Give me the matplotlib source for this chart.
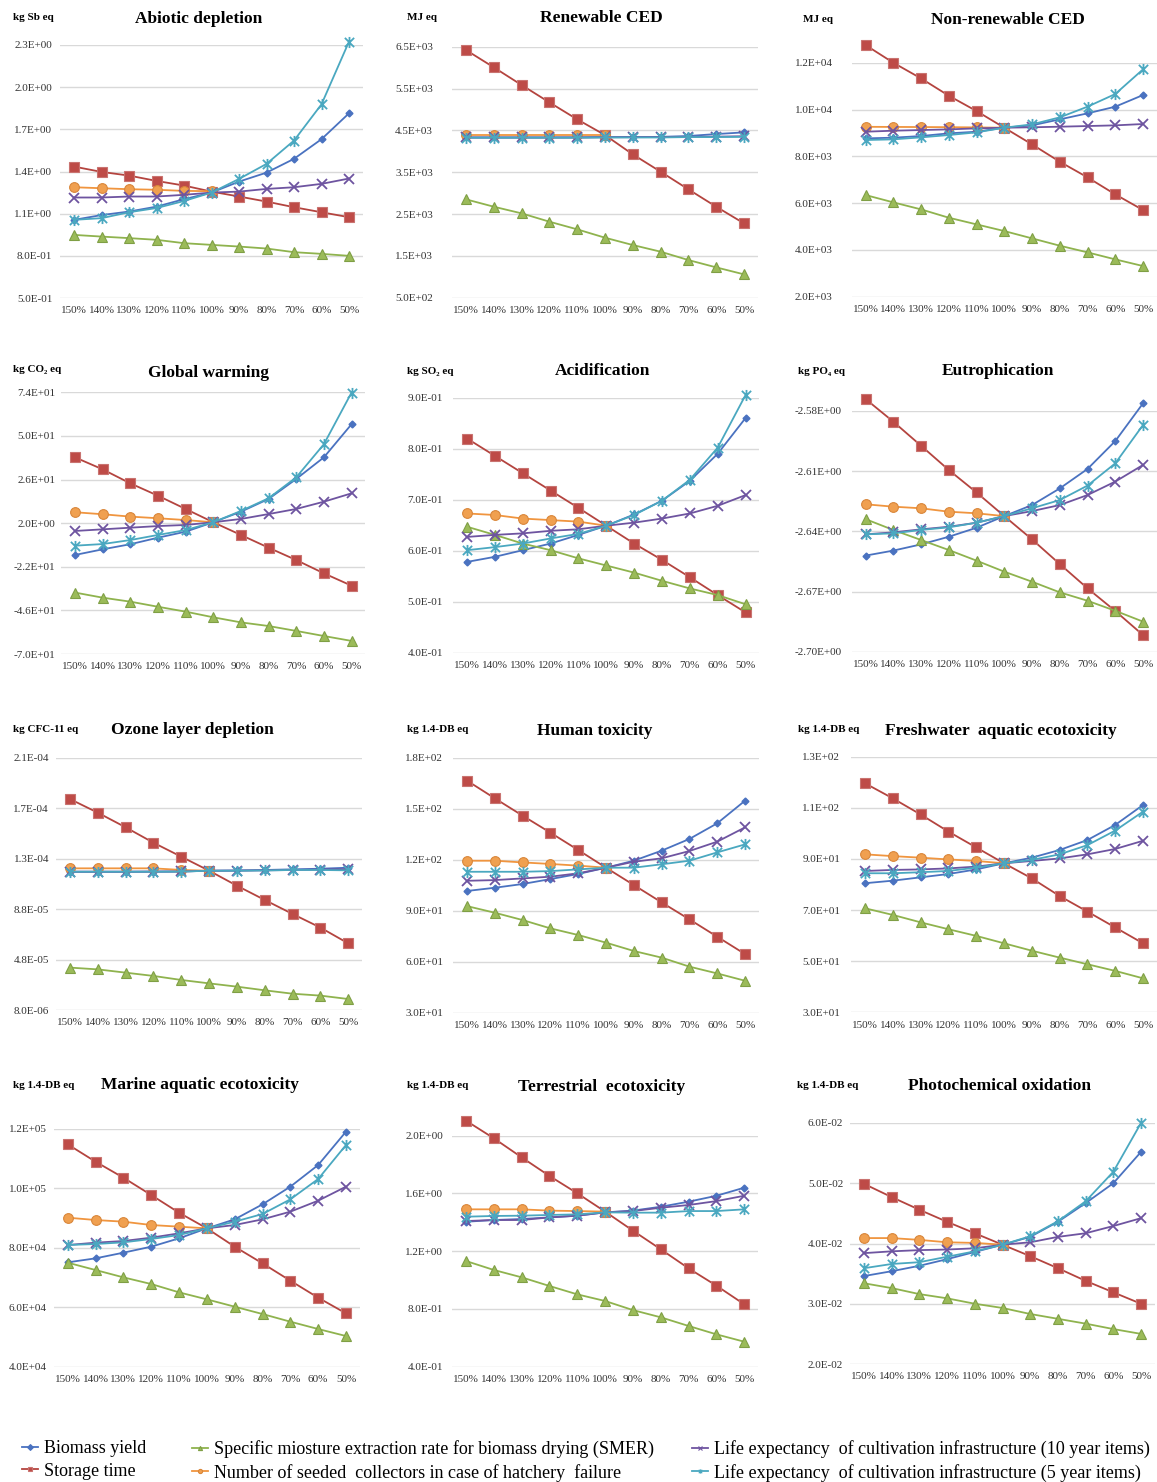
import numpy as np
import matplotlib
matplotlib.use('Agg')
import matplotlib.pyplot as plt
from matplotlib.lines import Line2D
from matplotlib.path import Path

x_labels = ['150%', '140%', '130%', '120%', '110%', '100%', '90%', '80%', '70%', '60%', '50%']

titles = ['Abiotic depletion', 'Renewable CED', 'Non-renewable CED',
          'Global warming', 'Acidification', 'Eutrophication',
          'Ozone layer depletion', 'Human toxicity', 'Freshwater  aquatic ecotoxicity',
          'Marine aquatic ecotoxicity', 'Terrestrial  ecotoxicity', 'Photochemical oxidation']
units = ['kg Sb eq', 'MJ eq', 'MJ eq',
         'kg CO\u2082 eq', 'kg SO\u2082 eq', 'kg PO\u2084 eq',
         'kg CFC-11 eq', 'kg 1.4-DB eq', 'kg 1.4-DB eq',
         'kg 1.4-DB eq', 'kg 1.4-DB eq', 'kg 1.4-DB eq']
y_ticks = [
    [0.5, 0.8, 1.1, 1.4, 1.7, 2.0, 2.3],
    [500, 1500, 2500, 3500, 4500, 5500, 6500],
    [2000, 4000, 6000, 8000, 10000, 12000],
    [-70, -46, -22, 2, 26, 50, 74],
    [0.4, 0.5, 0.6, 0.7, 0.8, 0.9],
    [-2.70, -2.67, -2.64, -2.61, -2.58],
    [8e-6, 4.8e-5, 8.8e-5, 1.28e-4, 1.68e-4, 2.08e-4],
    [30, 60, 90, 120, 150, 180],
    [30, 50, 70, 90, 110, 130],
    [40000, 60000, 80000, 100000, 120000],
    [0.4, 0.8, 1.2, 1.6, 2.0],
    [0.02, 0.03, 0.04, 0.05, 0.06],
]
tick_decimals = [1, 1, 1, 1, 1, 2, 1, 1, 1, 1, 1, 1]

biomass_yield = [
    [1.056, 1.09, 1.115, 1.15, 1.203, 1.25, 1.328, 1.392, 1.49, 1.63, 1.814],
    [4330, 4330, 4330, 4330, 4330, 4340, 4340, 4345, 4365, 4412, 4452],
    [8766, 8795, 8866, 8980, 9051, 9222, 9322, 9578, 9835, 10120, 10618],
    [-15.5, -12.4, -9.6, -6.0, -2.7, 2.5, 8.3, 15.3, 26.3, 38.2, 56.4],
    [0.578, 0.588, 0.601, 0.614, 0.631, 0.649, 0.671, 0.698, 0.737, 0.790, 0.860],
    [-2.6521, -2.6496, -2.6465, -2.6427, -2.6382, -2.6324, -2.6269, -2.6186, -2.6089, -2.595, -2.5762],
    [1.176e-4, 1.176e-4, 1.176e-4, 1.177e-4, 1.178e-4, 1.184e-4, 1.186e-4, 1.19e-4, 1.195e-4, 1.2e-4, 1.208e-4],
    [101.6, 103.5, 105.7, 108.6, 111.6, 115.3, 119.4, 125.3, 132.2, 141.4, 154.7],
    [80.5, 81.5, 82.8, 84.1, 85.9, 88.3, 90.5, 93.5, 97.4, 103.3, 111.1],
    [75120, 76466, 78374, 80393, 83198, 86564, 89593, 94643, 100589, 107882, 119102],
    [1.404, 1.416, 1.423, 1.434, 1.446, 1.469, 1.481, 1.508, 1.543, 1.584, 1.640],
    [0.0346, 0.0354, 0.0363, 0.0374, 0.0386, 0.0398, 0.0411, 0.0436, 0.0467, 0.0500, 0.0552],
]
storage_time = [
    [1.435, 1.397, 1.371, 1.333, 1.300, 1.257, 1.222, 1.186, 1.146, 1.110, 1.075],
    [6420, 6006, 5584, 5169, 4763, 4388, 3926, 3512, 3090, 2675, 2277],
    [12755, 12000, 11330, 10590, 9934, 9222, 8510, 7769, 7100, 6373, 5704],
    [38.2, 31.6, 23.9, 17.1, 9.8, 2.5, -4.5, -11.5, -18.3, -25.6, -32.4],
    [0.820, 0.786, 0.752, 0.718, 0.684, 0.649, 0.614, 0.582, 0.548, 0.513, 0.479],
    [-2.574, -2.5853, -2.5973, -2.6094, -2.6206, -2.6324, -2.644, -2.6563, -2.6684, -2.6797, -2.6917],
    [1.752e-4, 1.644e-4, 1.528e-4, 1.406e-4, 1.295e-4, 1.184e-4, 1.065e-4, 0.952e-4, 0.841e-4, 0.733e-4, 0.608e-4],
    [166.5, 156.1, 145.9, 135.9, 125.7, 115.3, 105.1, 94.9, 84.9, 74.7, 64.5],
    [119.6, 113.7, 107.4, 100.7, 94.5, 88.3, 82.4, 75.5, 69.4, 63.2, 57.0],
    [114839, 109004, 103619, 97784, 91838, 86564, 80393, 74783, 68949, 63227, 57954],
    [2.104, 1.982, 1.850, 1.721, 1.601, 1.474, 1.342, 1.213, 1.081, 0.961, 0.832],
    [0.0499, 0.0477, 0.0456, 0.0436, 0.0417, 0.0398, 0.0379, 0.0359, 0.0338, 0.0319, 0.0300],
]
smer = [
    [0.949, 0.937, 0.926, 0.914, 0.890, 0.878, 0.866, 0.852, 0.826, 0.814, 0.800],
    [2851, 2675, 2516, 2317, 2134, 1934, 1759, 1600, 1400, 1225, 1058],
    [6345, 6032, 5732, 5376, 5091, 4806, 4493, 4180, 3895, 3595, 3311],
    [-36.2, -39.0, -41.2, -44.0, -46.7, -49.8, -52.6, -54.6, -57.3, -60.1, -62.8],
    [0.647, 0.631, 0.614, 0.601, 0.585, 0.571, 0.557, 0.541, 0.526, 0.513, 0.495],
    [-2.6339, -2.6393, -2.6443, -2.6493, -2.6546, -2.6601, -2.6651, -2.6704, -2.6746, -2.6796, -2.685],
    [0.416e-4, 0.402e-4, 0.376e-4, 0.350e-4, 0.318e-4, 0.291e-4, 0.265e-4, 0.236e-4, 0.209e-4, 0.194e-4, 0.167e-4],
    [92.7, 88.8, 84.5, 79.6, 75.7, 71.2, 66.3, 62.4, 57.1, 53.1, 48.8],
    [70.7, 68.1, 65.2, 62.5, 59.9, 57.0, 54.1, 51.4, 48.8, 46.2, 43.3],
    [75008, 72540, 70071, 67827, 65022, 62666, 60197, 57729, 55148, 52680, 50324],
    [1.132, 1.070, 1.019, 0.959, 0.901, 0.855, 0.792, 0.742, 0.682, 0.624, 0.573],
    [0.0334, 0.0326, 0.0316, 0.0309, 0.0300, 0.0293, 0.0283, 0.0275, 0.0267, 0.0258, 0.0250],
]
# only 150% .. 100%
seeded_collectors = [
    [1.288, 1.281, 1.274, 1.270, 1.262, 1.260],
    [4388, 4388, 4388, 4388, 4388, 4388],
    [9260, 9255, 9250, 9245, 9235, 9222],
    [8.0, 6.9, 5.6, 4.7, 3.7, 2.5],
    [0.673, 0.670, 0.663, 0.660, 0.657, 0.649],
    [-2.6265, -2.6277, -2.6285, -2.6302, -2.631, -2.6324],
    [1.203e-4, 1.203e-4, 1.203e-4, 1.203e-4, 1.19e-4, 1.184e-4],
    [119.4, 119.4, 118.4, 117.5, 116.5, 115.3],
    [91.8, 91.1, 90.5, 89.8, 89.2, 88.3],
    [90155, 89369, 88808, 87686, 87125, 86564],
    [1.490, 1.490, 1.490, 1.481, 1.478, 1.474],
    [0.0409, 0.0409, 0.0406, 0.0402, 0.0401, 0.0398],
]
life_10yr = [
    [1.215, 1.215, 1.222, 1.222, 1.234, 1.250, 1.257, 1.276, 1.288, 1.312, 1.350],
    [4330, 4330, 4330, 4330, 4332, 4335, 4338, 4340, 4345, 4350, 4360],
    [9051, 9094, 9122, 9150, 9194, 9222, 9240, 9265, 9293, 9322, 9379],
    [-2.3, -1.4, -0.5, 0.4, 1.0, 2.5, 4.3, 7.0, 9.8, 13.8, 18.4],
    [0.627, 0.631, 0.634, 0.639, 0.642, 0.649, 0.655, 0.663, 0.673, 0.688, 0.709],
    [-2.6415, -2.6405, -2.639, -2.6377, -2.6357, -2.6324, -2.6299, -2.6269, -2.6219, -2.6152, -2.6069],
    [1.176e-4, 1.176e-4, 1.176e-4, 1.177e-4, 1.178e-4, 1.184e-4, 1.185e-4, 1.187e-4, 1.19e-4, 1.193e-4, 1.196e-4],
    [107.6, 108.0, 109.0, 110.0, 112.0, 115.3, 118.8, 120.8, 125.1, 130.6, 139.0],
    [85.3, 85.7, 85.9, 86.3, 87.0, 88.3, 89.2, 90.2, 91.8, 93.9, 97.1],
    [80954, 81740, 82301, 83423, 84881, 86564, 87686, 89593, 92174, 95877, 100589],
    [1.409, 1.416, 1.416, 1.434, 1.446, 1.469, 1.478, 1.501, 1.520, 1.547, 1.584],
    [0.0384, 0.0387, 0.0389, 0.0390, 0.0392, 0.0398, 0.0402, 0.0411, 0.0417, 0.0429, 0.0442],
]
life_5yr = [
    [1.056, 1.068, 1.110, 1.140, 1.190, 1.250, 1.347, 1.454, 1.620, 1.878, 2.324],
    [4325, 4325, 4325, 4325, 4325, 4330, 4330, 4330, 4340, 4340, 4345],
    [8695, 8724, 8809, 8909, 9023, 9222, 9365, 9664, 10120, 10661, 11715],
    [-10.4, -9.5, -7.3, -4.5, -1.8, 2.5, 8.7, 15.7, 27.2, 45.4, 73.8],
    [0.601, 0.607, 0.614, 0.624, 0.633, 0.649, 0.670, 0.698, 0.739, 0.802, 0.905],
    [-2.6415, -2.641, -2.6393, -2.638, -2.6357, -2.6324, -2.6285, -2.6244, -2.6172, -2.6061, -2.587],
    [1.176e-4, 1.176e-4, 1.176e-4, 1.176e-4, 1.177e-4, 1.184e-4, 1.184e-4, 1.186e-4, 1.19e-4, 1.19e-4, 1.187e-4],
    [112.9, 112.9, 112.9, 113.3, 114.3, 115.3, 115.3, 117.3, 119.4, 124.3, 129.0],
    [84.4, 84.4, 84.8, 85.3, 86.6, 88.3, 89.6, 91.8, 95.4, 101.1, 108.5],
    [80954, 81291, 81852, 82974, 84320, 86564, 88808, 91389, 96326, 103170, 114614],
    [1.439, 1.444, 1.446, 1.451, 1.455, 1.469, 1.467, 1.467, 1.478, 1.478, 1.490],
    [0.0359, 0.0366, 0.0369, 0.0378, 0.0387, 0.0398, 0.0412, 0.0437, 0.0470, 0.0519, 0.0600],
]

series_labels = ['Biomass yield', 'Storage time',
                 'Specific miosture extraction rate for biomass drying (SMER)',
                 'Number of seeded  collectors in case of hatchery  failure',
                 'Life expectancy  of cultivation infrastructure (10 year items)',
                 'Life expectancy  of cultivation infrastructure (5 year items)']

# layout in pixels: first point x, last point x, top tick y, bottom tick y, label pad
boxes = [
    (74, 349, 45, 298, 8), (466, 744, 46.7, 297.7, 19), (865.5, 1143, 62.7, 296.7, 19),
    (75, 351.5, 392.3, 654, 6), (467, 745.5, 397.7, 652.7, 10), (865.5, 1143, 411, 651.7, 10),
    (70, 348.3, 757.7, 1010, 7), (467, 745, 757.7, 1012.7, 10), (865, 1143, 756.7, 1012.3, 11),
    (67.7, 346, 1129, 1366.7, 7), (466, 744.3, 1135.7, 1366.7, 9), (864, 1141, 1123, 1364, 7),
]
unit_pos = [(13, 18), (407, 18), (803, 20), (13, 370), (407, 371), (798, 371),
            (13, 730), (407, 730), (798, 730), (13, 1086), (407, 1086), (797, 1086)]
title_pos = [(199, 19), (601, 18), (1008, 20), (208, 373), (603, 371), (998, 371),
             (192, 730), (595, 731), (1001, 731), (200, 1085), (602, 1087), (1000, 1086)]
legend_x = [22, 192, 692]

W, H = 1157, 1482
serif = ['Liberation Serif', 'DejaVu Serif']
plt.rcParams['font.family'] = serif

star = Path([(-1, -1), (1, 1), (-1, 1), (1, -1), (0, -1.2), (0, 1.2)],
            [Path.MOVETO, Path.LINETO] * 3)
styles = [
    dict(color='#4a72c0', marker='D', ms=3.5, mfc='#4a72c0', mec='#4a72c0'),
    dict(color='#b4443f', marker='s', ms=7, mfc='#be4b47', mec='#c97370', mew=0.8),
    dict(color='#8fb34e', marker='^', ms=7, mfc='#9bbb59', mec='#7f9f45', mew=0.8),
    dict(color='#f0953f', marker='o', ms=7, mfc='#f0a050', mec='#d9863a', mew=0.8),
    dict(color='#6e54a0', marker='x', ms=7, mew=1.3),
    dict(color='#4aa8c0', marker=star, ms=8, mfc='none', mew=1.3),
]
data = [biomass_yield, storage_time, smer, seeded_collectors, life_10yr, life_5yr]

fig = plt.figure(figsize=(W / 100, H / 100), dpi=100)
for i in range(12):
    first, last, top, bot, pad = boxes[i]
    w = (last - first) / 10
    left, right = first - w / 2, last + w / 2
    ax = fig.add_axes([left / W, 1 - bot / H, (right - left) / W, (bot - top) / H])
    for s in range(6):
        vals = data[s][i]
        ax.plot(range(len(vals)), vals, lw=1.3, clip_on=False, zorder=3, **styles[s])
    ax.set_xlim(-0.5, 10.5)
    ax.set_ylim(y_ticks[i][0], y_ticks[i][-1])
    ax.set_yticks(y_ticks[i])
    d = tick_decimals[i]
    ax.set_yticklabels([f'{v:.{d}E}' for v in y_ticks[i]])
    ax.set_xticks(range(11))
    ax.set_xticklabels(x_labels)
    ax.tick_params(axis='y', length=0, pad=pad * 0.72, labelsize=8, labelcolor='#333333')
    ax.tick_params(axis='x', length=0, pad=6, labelsize=8, labelcolor='#333333')
    ax.grid(axis='y', color='#d9d9d9', lw=1)
    ax.set_axisbelow(True)
    for sp in ax.spines.values():
        sp.set_visible(False)
    ux, uy = unit_pos[i]
    fig.text(ux / W, 1 - uy / H, units[i], ha='left', va='center',
             fontsize=8, fontweight='bold')
    tx, ty = title_pos[i]
    fig.text(tx / W, 1 - ty / H, titles[i], ha='center', va='center',
             fontsize=12.5, fontweight='bold')

handles = []
for s in range(6):
    st = dict(styles[s])
    st['ms'] = 3
    st['mew'] = 0.8
    handles.append(Line2D([], [], lw=1.3, **st))
for c in range(3):
    leg = fig.legend(handles[2 * c:2 * c + 2], series_labels[2 * c:2 * c + 2],
                     loc='upper left', bbox_to_anchor=(legend_x[c] / W, 1 - 1440 / H),
                     frameon=False, fontsize=13, handlelength=0.9, handletextpad=0.3,
                     labelspacing=0.32, borderpad=0, borderaxespad=0)

fig.savefig('out.png', dpi=100)
